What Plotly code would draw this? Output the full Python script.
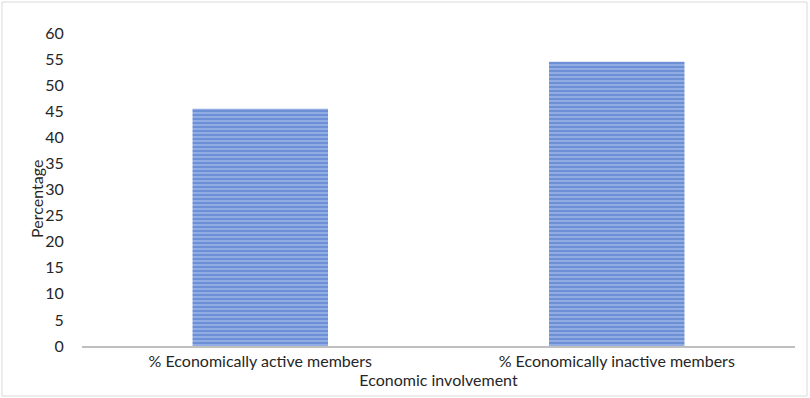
import plotly.graph_objects as go

categories = ["% Economically active members", "% Economically inactive members"]
values = [45.5, 54.5]
y_ticks = list(range(0, 61, 5))

fig = go.Figure(
    go.Bar(
        x=categories,
        y=values,
        width=0.38,
        marker=dict(
            color="#9AB4E6",
            line=dict(width=0),
            pattern=dict(
                shape="-",
                fgcolor="#3D6AC3",
                bgcolor="#9AB4E6",
                size=4,
                solidity=0.6,
                fillmode="overlay",
            ),
        ),
    )
)

font = dict(family="Lato, Carlito, 'Open Sans', sans-serif", size=16, color="#262626")

fig.update_layout(
    width=810,
    height=398,
    margin=dict(l=82, r=15, t=33, b=52),
    paper_bgcolor="white",
    plot_bgcolor="white",
    font=font,
    showlegend=False,
    xaxis=dict(
        title=dict(text="Economic involvement", standoff=2, font=font),
        showline=True,
        linecolor="#BFBFBF",
        linewidth=1.5,
        showgrid=False,
        ticks="",
        tickfont=font,
    ),
    yaxis=dict(
        range=[0, 60],
        tickvals=y_ticks,
        showgrid=False,
        showline=False,
        zeroline=False,
        ticks="outside",
        ticklen=14,
        tickcolor="white",
        tickfont=font,
    ),
    annotations=[
        dict(
            text="Percentage", xref="paper", yref="paper",
            x=-45 / 713, y=0.47, textangle=-90, showarrow=False,
            xanchor="center", yanchor="middle", font=font,
        )
    ],
    shapes=[
        dict(
            type="rect", xref="paper", yref="paper",
            x0=-80 / 713, x1=1 + 12 / 713, y0=-50 / 313, y1=1 + 31 / 313,
            line=dict(color="#D9D9D9", width=1),
        )
    ],
)

fig.write_html("out.html")
